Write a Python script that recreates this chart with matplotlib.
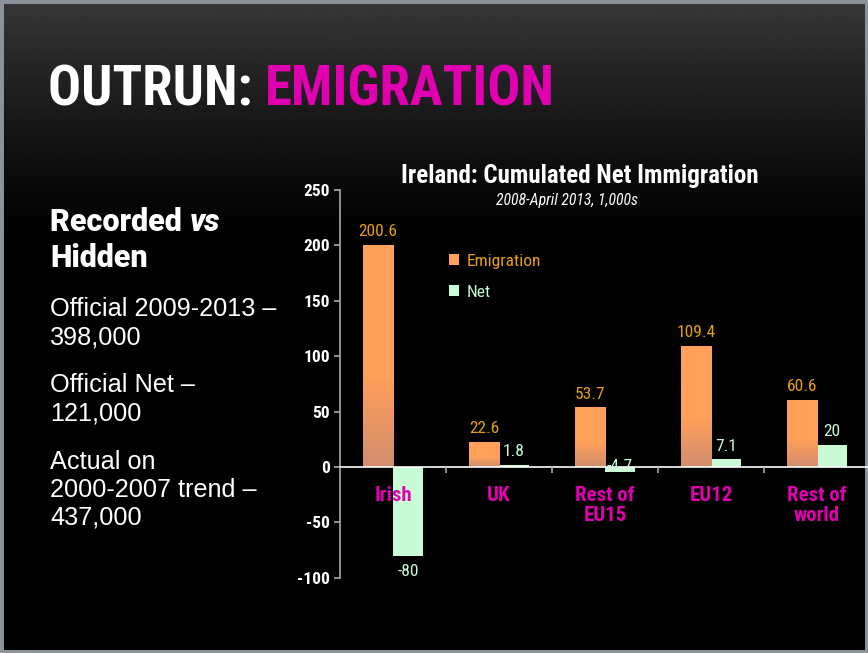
import matplotlib.pyplot as plt
import matplotlib.colors as mcolors
from matplotlib.patches import Rectangle
import numpy as np

# data
categories = ["Irish", "UK", "Rest of\nEU15", "EU12", "Rest of\nworld"]
emigration = [200.6, 22.6, 53.7, 109.4, 60.6]
net = [-80, 1.8, -4.7, 7.1, 20]
yticks = [-100, -50, 0, 50, 100, 150, 200, 250]

side_lines = [
    ("Official 2009-2013 \u2013", 309), ("398,000", 338),
    ("Official Net \u2013", 385), ("121,000", 413),
    ("Actual on", 462), ("2000-2007 trend \u2013", 490), ("437,000", 518),
]

COND = ["Roboto Condensed", "DejaVu Sans"]
SANS = ["Liberation Sans", "DejaVu Sans"]
ORANGE = "#ffa05a"
GREEN = "#c8fad6"
MAGENTA = "#e000b0"
GOLD = "#e8a010"

W, H = 868, 653
fig = plt.figure(figsize=(W / 100, H / 100), dpi=100)
fig.patch.set_facecolor("black")

def px(x, y):
    return x / W, 1 - y / H

# background: dark grey at the top fading to black
bg = fig.add_axes([0, 0, 1, 1], zorder=-10)
bg.set_axis_off()
yy = np.linspace(0, 1, 400)
g = np.clip(1 - yy / 0.38, 0, 1) ** 1.3
grad = (g * 0.22)[:, None] * np.ones((1, 2))
bg.imshow(grad, cmap="gray", vmin=0, vmax=1, aspect="auto", extent=[0, 1, 0, 1])
bg.add_patch(Rectangle((0, 0), 1, 1, transform=fig.transFigure, fill=False,
                       edgecolor="#8c939b", linewidth=5, zorder=5))

fig.canvas.draw()
rend = fig.canvas.get_renderer()

# slide title
t1 = fig.text(*px(48, 105), "OUTRUN: ", family=COND, weight=900, fontsize=39.5,
              color="white", va="baseline", ha="left")
bb = t1.get_window_extent(rend)
fig.text(bb.x1 / W, 1 - 105 / H, "EMIGRATION", family=COND, weight=900,
         fontsize=39.5, color=MAGENTA, va="baseline", ha="left")

# left column text
r1 = fig.text(*px(50, 231), "Recorded ", family="Roboto", weight=900,
              fontsize=22, color="white", va="baseline")
bb = r1.get_window_extent(rend)
fig.text(bb.x1 / W, 1 - 231 / H, "vs", family="Roboto", weight=900, style="italic",
         fontsize=22, color="white", va="baseline")
fig.text(*px(50, 267), "Hidden", family="Roboto", weight=900, fontsize=22,
         color="white", va="baseline")
for s, y in side_lines:
    fig.text(*px(50, y), s, family=SANS, fontsize=18.2, color="white", va="center")

# chart titles
fig.text(*px(580, 176), "Ireland: Cumulated Net Immigration", family=COND,
         weight="bold", fontsize=18, color="white", ha="center", va="center")
fig.text(*px(567, 201), "2008-April 2013, 1,000s", family=COND, style="italic",
         fontsize=11.3, color="white", ha="center", va="center")

# chart axes
x0, y0 = px(340, 577.7)
x1, y1 = px(870, 190)
ax = fig.add_axes([x0, y0, x1 - x0, y1 - y0])
ax.set_facecolor("none")
ax.set_axisbelow(False)
x = np.arange(len(categories))
bw = 0.284
b1 = ax.bar(x - bw / 2, emigration, bw, color=ORANGE, label="Emigration", zorder=2)
b2 = ax.bar(x + bw / 2, net, bw, color=GREEN, label="Net", zorder=2)

# orange bars get a slight gradient towards the bottom
cmap = mcolors.LinearSegmentedColormap.from_list(
    "og", [(0, "#d28d6e"), (0.4, ORANGE), (1, ORANGE)])
for p in b1:
    im = ax.imshow(np.linspace(0, 1, 100)[:, None], cmap=cmap, aspect="auto",
                   origin="lower", extent=[p.get_x(), p.get_x() + p.get_width(),
                                           0, p.get_height()], zorder=2.1)
    im.set_clip_path(p)

ax.set_xlim(-0.5, len(categories) - 0.5)
ax.set_ylim(-100, 250)

for xi, v in zip(x, emigration):
    ax.annotate(f"{v:g}", (xi - bw / 2, v), xytext=(0, 4), textcoords="offset points",
                ha="center", va="bottom", color=GOLD, family=COND, fontsize=12.5)
for xi, v in zip(x, net):
    if v < -20:
        off, va = (0, -6), "top"
    elif v < 0:
        off, va = (0, -1), "bottom"
    else:
        off, va = (0, 4), "bottom"
    ax.annotate(f"{v:g}", (xi + bw / 2, v), xytext=off, textcoords="offset points",
                ha="center", va=va, color=GREEN, family=COND, fontsize=12.5)

for s in ["top", "right"]:
    ax.spines[s].set_visible(False)
ax.spines["left"].set_color("#aaaaaa")
ax.spines["left"].set_linewidth(1.2)
ax.spines["bottom"].set_position(("data", 0))
ax.spines["bottom"].set_color("white")
ax.spines["bottom"].set_linewidth(1.2)

ax.set_yticks(yticks)
ax.set_yticklabels([str(t) for t in yticks], family=COND, weight="bold",
                   fontsize=12.5, color="white")
ax.tick_params(axis="y", colors="#aaaaaa", length=4, width=1.2, pad=3, labelcolor="white")

ax.set_xticks(x)
ax.set_xticklabels(categories, family=COND, weight="bold", fontsize=15,
                   color=MAGENTA, linespacing=1.05)
ax.tick_params(axis="x", length=0, pad=14)
ax.set_xticks(x[:-1] + 0.5, minor=True)
ax.tick_params(axis="x", which="minor", length=4, width=1.2, colors="#aaaaaa",
               direction="out")

ax.legend(handles=[b1, b2], loc="upper left", bbox_to_anchor=px(449, 254),
          bbox_transform=fig.transFigure, frameon=False, borderpad=0,
          borderaxespad=0, handlelength=0.6, handleheight=0.6, handletextpad=0.4,
          labelspacing=0.92, prop={"family": COND, "size": 12.5},
          labelcolor=[GOLD, GREEN])

fig.savefig("out.png", dpi=100, facecolor=fig.get_facecolor())
